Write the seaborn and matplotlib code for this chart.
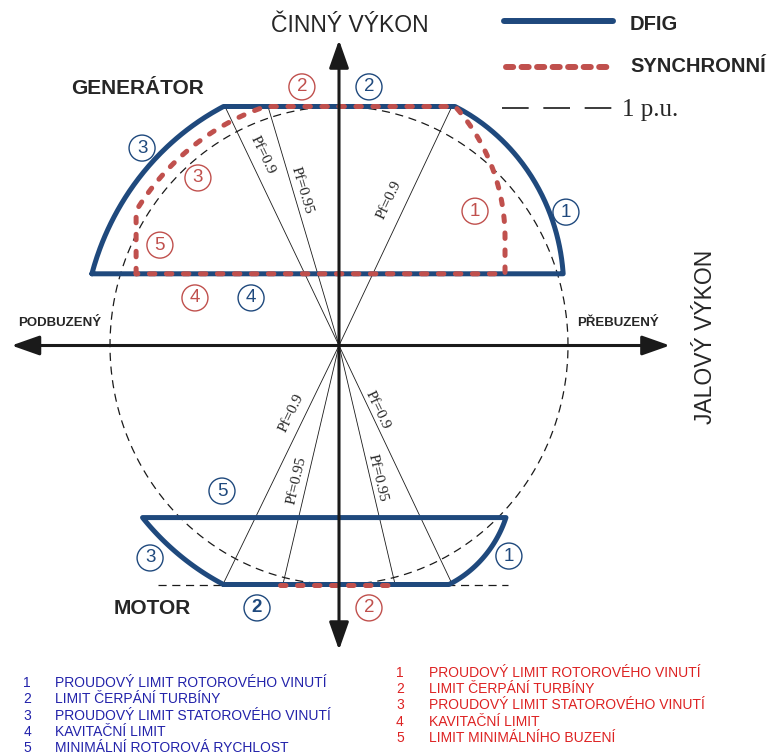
import numpy as np
import matplotlib
matplotlib.use('Agg')
import matplotlib.pyplot as plt
import seaborn as sns

sns.set_theme(style='white')
plt.rcParams['font.family'] = ['Liberation Sans', 'DejaVu Sans']

W, H = 773, 754
# p.u. -> pixel mapping of the picture (Q horizontal, P vertical)
CX, CY, SX, SY = 339, 345.5, 229, 239

BLUE = '#1f497d'
RED = '#c0504d'
TXT_BLUE = '#2222aa'
TXT_RED = '#dd2222'

# ---- data, p.u. ----
axis_q = [-1.43, 1.445]
axis_p = [-1.274, 1.278]
unit_r = 1.0

dfig_gen_p = [0.30, 1.00]
dfig_motor_p = [-1.00, -0.72]
dfig_stator_r = 1.12
dfig_rotor_gen = [0.135, 0.24, 0.846]      # Q0, P0, r
dfig_rotor_motor = [0.267, -0.56, 0.489]

sync_gen_p = [0.30, 1.00]
sync_stator_r = 1.05
sync_rotor = [-0.078, 0.45, 0.803]
sync_min_exc_q = -0.886
sync_motor_q = [-0.258, 0.23]
sync_motor_p = -1.0

motor_ref_q = [-0.79, 0.74]
motor_ref_p = -1.0

pf_up_labels = ['Pf=0.9', 'Pf=0.95', 'Pf=0.9']
pf_up_q = [-0.498, -0.31, 0.493]
pf_up_p = 1.0
pf_lo_labels = ['Pf=0.9', 'Pf=0.95', 'Pf=0.95', 'Pf=0.9']
pf_lo_q = [-0.507, -0.245, 0.245, 0.495]
pf_lo_p = -1.0

blue_marks = ['2', '1', '3', '4', '5', '3', '1', '2']
red_marks = ['2', '1', '3', '5', '4', '2']

blue_items = ['PROUDOVÝ LIMIT ROTOROVÉHO VINUTÍ', 'LIMIT ČERPÁNÍ TURBÍNY',
              'PROUDOVÝ LIMIT STATOROVÉHO VINUTÍ', 'KAVITAČNÍ LIMIT',
              'MINIMÁLNÍ ROTOROVÁ RYCHLOST']
red_items = ['PROUDOVÝ LIMIT ROTOROVÉHO VINUTÍ', 'LIMIT ČERPÁNÍ TURBÍNY',
             'PROUDOVÝ LIMIT STATOROVÉHO VINUTÍ', 'KAVITAČNÍ LIMIT',
             'LIMIT MINIMÁLNÍHO BUZENÍ']


def arc_q(q0, p0, r, p, side=1):
    return q0 + side * np.sqrt(r ** 2 - (p - p0) ** 2)


def fx(x):
    return x / W


def fy(y):
    return 1 - y / H


fig = plt.figure(figsize=(W / 100, H / 100), dpi=100)
ax = fig.add_axes([0, 0, 1, 1])
ax.axis('off')

# 1 p.u. circle
t = np.linspace(0, 2 * np.pi, 400)
ax.plot(unit_r * np.cos(t), unit_r * np.sin(t), color='k', lw=0.9,
        dashes=(6.5, 4.5), zorder=1)

# power factor lines
for q in pf_up_q:
    sns.lineplot(x=[0, q], y=[0, pf_up_p], color='k', lw=0.6, ax=ax, zorder=2)
for q in pf_lo_q:
    sns.lineplot(x=[0, q], y=[0, pf_lo_p], color='k', lw=0.6, ax=ax, zorder=2)
ax.plot(motor_ref_q, [motor_ref_p] * 2, color='k', lw=0.9, dashes=(6.5, 4.5), zorder=2)

# DFIG generator area
p = np.linspace(dfig_gen_p[0], dfig_gen_p[1], 80)
left = -np.sqrt(dfig_stator_r ** 2 - p ** 2)
right = arc_q(*dfig_rotor_gen, p)
gq = np.concatenate([left, right[::-1], left[:1]])
gp = np.concatenate([p, p[::-1], p[:1]])
sns.lineplot(x=gq, y=gp, sort=False, estimator=None, color=BLUE, lw=3.6, ax=ax, zorder=4)

# DFIG motor area
p = np.linspace(dfig_motor_p[0], dfig_motor_p[1], 60)
left = -np.sqrt(dfig_stator_r ** 2 - p ** 2)
right = arc_q(*dfig_rotor_motor, p)
mq = np.concatenate([left, right[::-1], left[:1]])
mp = np.concatenate([p, p[::-1], p[:1]])
sns.lineplot(x=mq, y=mp, sort=False, estimator=None, color=BLUE, lw=3.6, ax=ax, zorder=4)
for l in ax.lines[-2:]:
    l.set_solid_joinstyle('round')
    l.set_solid_capstyle('round')

# synchronous generator area
p_int = np.sqrt(sync_stator_r ** 2 - sync_min_exc_q ** 2)
ps = np.linspace(p_int, sync_gen_p[1], 60)
ls = -np.sqrt(sync_stator_r ** 2 - ps ** 2)
pr = np.linspace(sync_gen_p[1], sync_rotor[1], 60)
rs = arc_q(*sync_rotor, pr)
sq = np.concatenate([[sync_min_exc_q], ls, rs, [rs[-1], sync_min_exc_q]])
sp = np.concatenate([[sync_gen_p[0]], ps, pr, [sync_gen_p[0], sync_gen_p[0]]])
sns.lineplot(x=sq, y=sp, sort=False, estimator=None, color=RED, lw=3.6, ax=ax, zorder=5)
sns.lineplot(x=sync_motor_q, y=[sync_motor_p] * 2, color=RED, lw=3.6, ax=ax, zorder=5)
for l in ax.lines[-2:]:
    l.set_dashes((1.1, 2.3))
    l.set_dash_capstyle('round')

# axes arrows
arrow = dict(arrowstyle='<|-|>,head_length=1.7,head_width=0.6', mutation_scale=10,
             lw=2.2, color='k', shrinkA=0, shrinkB=0)
ax.annotate('', xy=(0, axis_p[1]), xytext=(0, axis_p[0]), arrowprops=arrow, zorder=6)
ax.annotate('', xy=(axis_q[1], 0), xytext=(axis_q[0], 0), arrowprops=arrow, zorder=6)

# pf labels
up_pos = [(-0.336, 0.797), (-0.162, 0.651), (0.218, 0.609)]
lo_pos = [(-0.21, -0.282), (-0.183, -0.563), (0.17, -0.554), (0.17, -0.27)]
for lab, q, (x, y) in zip(pf_up_labels, pf_up_q, up_pos):
    ang = np.degrees(np.arctan2(pf_up_p * SY, q * SX))
    ang = ang - 180 if ang > 90 else ang
    ax.text(x, y, lab, rotation=ang, ha='center', va='center', fontsize=11,
            family='Liberation Serif', rotation_mode='anchor', zorder=3)
for lab, q, (x, y) in zip(pf_lo_labels, pf_lo_q, lo_pos):
    ang = np.degrees(np.arctan2(pf_lo_p * SY, q * SX))
    ang = ang + 180 if ang < -90 else ang
    ax.text(x, y, lab, rotation=ang, ha='center', va='center', fontsize=11,
            family='Liberation Serif', rotation_mode='anchor', zorder=3)

# circled limit numbers
blue_pos = [(0.131, 1.082), (0.991, 0.558), (-0.860, 0.826), (-0.384, 0.199),
            (-0.511, -0.609), (-0.825, -0.889), (0.742, -0.881), (-0.358, -1.098)]
red_pos = [(-0.162, 1.082), (0.594, 0.562), (-0.616, 0.701), (-0.782, 0.420),
           (-0.629, 0.199), (0.131, -1.098)]
for i, (s, (x, y)) in enumerate(zip(blue_marks, blue_pos)):
    ax.text(x, y, s, ha='center', va='center', fontsize=13.5, color=BLUE,
            fontweight='bold' if i == len(blue_marks) - 1 else 'normal',
            bbox=dict(boxstyle='circle,pad=0.24', fc='none', ec=BLUE, lw=1.0), zorder=7)
for s, (x, y) in zip(red_marks, red_pos):
    ax.text(x, y, s, ha='center', va='center', fontsize=13.5, color=RED,
            bbox=dict(boxstyle='circle,pad=0.24', fc='none', ec=RED, lw=1.0), zorder=7)

# titles and labels
T = fig.transFigure
fig.text(fx(350), fy(25), 'ČINNÝ VÝKON', ha='center', va='center', fontsize=16.5)
fig.text(fx(706), fy(337), 'JALOVÝ VÝKON', ha='center', va='center', fontsize=16.5,
         rotation=90)
fig.text(fx(138), fy(89), 'GENERÁTOR', ha='center', va='center', fontsize=15,
         fontweight='bold')
fig.text(fx(152), fy(608), 'MOTOR', ha='center', va='center', fontsize=15,
         fontweight='bold')
fig.text(fx(60), fy(323), 'PODBUZENÝ', ha='center', va='center', fontsize=9.5,
         fontweight='bold')
fig.text(fx(618), fy(323), 'PŘEBUZENÝ', ha='center', va='center', fontsize=9.5,
         fontweight='bold')

# legend (top right)
ax.plot([fx(504), fx(613)], [fy(21)] * 2, transform=T, color=BLUE, lw=4.3,
        solid_capstyle='round')
ax.plot([fx(506), fx(613)], [fy(67)] * 2, transform=T, color=RED, lw=4.3,
        dashes=(1.2, 1.4), dash_capstyle='round')
ax.plot([fx(502), fx(616)], [fy(108)] * 2, transform=T, color='k', lw=1.2,
        dashes=(16, 8.8))
fig.text(fx(630), fy(24), 'DFIG', ha='left', va='center', fontsize=14.5,
         fontweight='bold')
fig.text(fx(630), fy(66), 'SYNCHRONNÍ', ha='left', va='center', fontsize=14.5,
         fontweight='bold')
fig.text(fx(622), fy(110), '1 p.u.', ha='left', va='center', fontsize=18,
         family='Liberation Serif')

# bottom lists
for i, s in enumerate(blue_items):
    y = 683 + i * 16.3
    fig.text(fx(27), fy(y), str(i + 1), ha='center', va='center', fontsize=10,
             color=TXT_BLUE)
    fig.text(fx(55), fy(y), s, ha='left', va='center', fontsize=10, color=TXT_BLUE)
for i, s in enumerate(red_items):
    y = 673 + i * 16.2
    fig.text(fx(400), fy(y), str(i + 1), ha='center', va='center', fontsize=10,
             color=TXT_RED)
    fig.text(fx(429), fy(y), s, ha='left', va='center', fontsize=10, color=TXT_RED)

ax.set_xlim(-CX / SX, (W - CX) / SX)
ax.set_ylim((CY - H) / SY, CY / SY)
if ax.get_legend() is not None:
    ax.get_legend().remove()
fig.savefig('out.png', dpi=100)
